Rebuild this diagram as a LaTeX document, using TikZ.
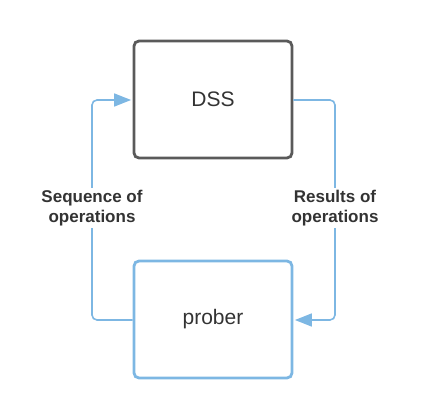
\documentclass[tikz,border=0pt]{standalone}
\usepackage{fontspec}
\setmainfont{Liberation Sans}
\usetikzlibrary{arrows.meta}
\definecolor{boxgray}{HTML}{5A5A5A}
\definecolor{lblue}{HTML}{7DB7E3}
\definecolor{txt}{HTML}{333333}
\begin{document}
\begin{tikzpicture}[x=1pt,y=-1pt,
  box/.style={draw, line width=2.8pt, rounded corners=5pt, minimum width=158pt, minimum height=117pt, inner sep=0pt, text=txt, font=\fontsize{21}{24}\selectfont},
  conn/.style={draw=lblue, line width=1.6pt, rounded corners=5pt, shorten >=1.5pt, -{Triangle[length=17pt,width=13pt]}},
  lbl/.style={fill=white, text=txt, align=center, inner sep=2pt, font=\fontsize{17}{20}\selectfont\bfseries}]
\useasboundingbox (0,0) rectangle (421,420);
\node[box, draw=boxgray] (dss) at (213,99.5) {DSS};
\node[box, draw=lblue] (prober) at (213,319.5) {prober};
\coordinate (l1) at (92,320);
\coordinate (l2) at (92,100);
\coordinate (r1) at (335,100);
\coordinate (r2) at (335,320);
\draw[conn] (prober.west |- l1) -- (l1) -- (l2) -- (dss.west |- l2);
\draw[conn] (dss.east |- r1) -- (r1) -- (r2) -- (prober.east |- r2);
\node[lbl] (seq) at (92,208) {Sequence of\\operations};
\node[lbl] (res) at (335,208) {Results of\\operations};
\end{tikzpicture}
\end{document}
